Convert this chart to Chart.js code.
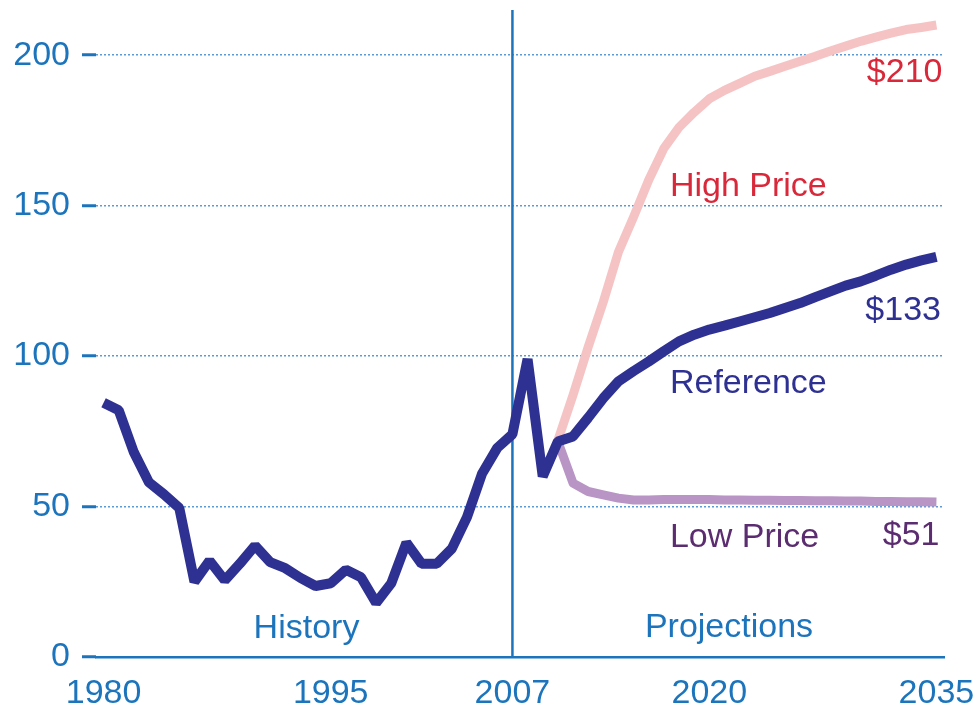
<!DOCTYPE html>
<html>
<head>
<meta charset="utf-8">
<title>Oil price cases</title>
<script src="https://cdn.jsdelivr.net/npm/chart.js@4.4.1/dist/chart.umd.min.js"></script>
<style>
  html, body { margin: 0; padding: 0; background: #fff; }
  #wrap { width: 978px; height: 707px; position: relative; }
</style>
</head>
<body>
<div id="wrap"><canvas id="chart" width="978" height="707"></canvas></div>
<script>
/* ── DATA ───────────────────────────────────────────── */
const histYears = [1980,1981,1982,1983,1984,1985,1986,1987,1988,1989,1990,1991,1992,1993,1994,1995,
                   1996,1997,1998,1999,2000,2001,2002,2003,2004,2005,2006,2007,2008,2009];
const histValues = [84.5,82,68,58,54,49.5,25,32,25.5,31,37,31.5,29.5,26.3,23.6,24.5,
                    29,26.5,18,24.5,38,31,31,36,46.5,61,69.5,74,99,60];

const projYears = [2010,2011,2012,2013,2014,2015,2016,2017,2018,2019,2020,2021,2022,2023,2024,2025,
                   2026,2027,2028,2029,2030,2031,2032,2033,2034,2035];
const refValues  = [71.6,73.3,79.5,86,91.6,95,98.2,101.6,104.9,107.1,108.8,110.1,111.5,112.9,114.3,116,
                    117.6,119.6,121.5,123.4,124.8,126.7,128.7,130.4,131.8,133];
const highValues = [72,87,103,118,134.6,146.2,158.5,169,176,181,185.5,188.3,190.6,193,194.6,196.3,
                    198,199.6,201.4,203,204.6,206,207.3,208.5,209.2,210];
const lowValues  = [71.6,57.8,55,53.9,52.8,52.2,52.2,52.3,52.3,52.3,52.3,52.2,52.2,52.1,52.1,52,
                    52,51.9,51.9,51.8,51.8,51.7,51.7,51.6,51.6,51.5];

const xTicks = [1980, 1995, 2007, 2020, 2035];
const yTicks = [0, 50, 100, 150, 200];
const dividerYear = 2007;

// text labels: [text, year, value(baseline), align, colour]
const labels = [
  ["$210",        2035.4, 191,  "right", "#d8283a"],
  ["High Price",  2017.4, 153.2,"left",  "#d8283a"],
  ["$133",        2035.3, 111.9,"right", "#2e3192"],
  ["Reference",   2017.4, 87.7, "left",  "#2e3192"],
  ["Low Price",   2017.4, 36.5, "left",  "#5b2c6f"],
  ["$51",         2035.2, 37.3, "right", "#5b2c6f"],
  ["History",     1993.4, 6.2,  "center","#1c75bc"],
  ["Projections", 2021.3, 6.7,  "center","#1c75bc"]
];

/* ── HELPERS ────────────────────────────────────────── */
const BLUE = "#1c75bc";
const FONT = "'Liberation Sans', Arial, Helvetica, sans-serif";
const pts = (xs, ys) => xs.map((x, i) => ({ x, y: ys[i] }));

const refSeries = pts(histYears, histValues).concat(pts(projYears, refValues));

/* ── TEXT PLUGIN ────────────────────────────────────── */
const textLabels = {
  id: "textLabels",
  afterDatasetsDraw(chart) {
    const { ctx, scales: { x, y } } = chart;
    ctx.save();
    ctx.font = `34px ${FONT}`;
    ctx.textBaseline = "alphabetic";
    labels.forEach(([t, yr, v, align, col]) => {
      ctx.fillStyle = col;
      ctx.textAlign = align;
      ctx.fillText(t, x.getPixelForValue(yr), y.getPixelForValue(v));
    });
    ctx.restore();
  }
};

/* ── CHART ──────────────────────────────────────────── */
new Chart(document.getElementById("chart"), {
  type: "line",
  data: {
    datasets: [
      {
        label: "Reference",
        data: refSeries,
        borderColor: "#2e3192",
        borderWidth: 10,
        borderJoinStyle: "bevel",
        pointRadius: 0,
        tension: 0
      },
      {
        label: "High Price",
        data: pts(projYears, highValues),
        borderColor: "#f6c3c4",
        borderWidth: 9,
        borderJoinStyle: "round",
        pointRadius: 0,
        tension: 0
      },
      {
        label: "Low Price",
        data: pts(projYears, lowValues),
        borderColor: "#b995c5",
        borderWidth: 9,
        borderJoinStyle: "round",
        pointRadius: 0,
        tension: 0
      },
      {
        label: "divider",
        data: [{ x: dividerYear, y: 0 }, { x: dividerYear, y: 215 }],
        borderColor: BLUE,
        borderWidth: 2.5,
        pointRadius: 0
      }
    ]
  },
  options: {
    responsive: false,
    animation: false,
    layout: { padding: { top: 10, right: 34, left: 0, bottom: 0 } },
    plugins: { legend: { display: false }, tooltip: { enabled: false } },
    scales: {
      x: {
        type: "linear",
        min: 1979.5,
        max: 2035.5,
        afterBuildTicks: s => { s.ticks = xTicks.map(v => ({ value: v })); },
        afterFit: s => { s.height = 50; s.paddingLeft = 0; s.paddingRight = 0; },
        grid: { display: false, drawTicks: false },
        border: { display: true, color: BLUE, width: 2.5 },
        ticks: {
          padding: 16,
          maxRotation: 0,
          autoSkip: false,
          color: BLUE,
          font: { family: FONT, size: 34 },
          callback: v => String(v)
        }
      },
      y: {
        type: "linear",
        min: 0,
        max: 215,
        afterBuildTicks: s => { s.ticks = yTicks.map(v => ({ value: v })); },
        afterFit: s => { s.width = 96; s.paddingTop = 0; s.paddingBottom = 0; },
        grid: {
          color: "#5a9bd4",
          lineWidth: 1.5,
          tickLength: 14,
          tickWidth: 3,
          tickColor: BLUE
        },
        border: { display: false, dash: [2, 2] },
        ticks: {
          padding: 12,
          color: BLUE,
          font: { family: FONT, size: 34 }
        }
      }
    }
  },
  plugins: [textLabels]
});
</script>
</body>
</html>
